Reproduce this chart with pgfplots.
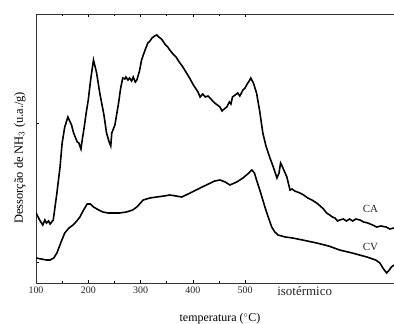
\documentclass[border=0pt]{standalone}
\usepackage{fontspec}
\setmainfont{Liberation Serif}
\usepackage{pgfplots}
\pgfplotsset{compat=1.18}
\begin{document}
\begin{tikzpicture}
\begin{axis}[
  scale only axis,
  width=358bp, height=269bp,
  xmin=100, xmax=785, ymin=0, ymax=269,
  axis x line=box, axis y line=left,
  y axis line style={-},
  xtick={100,200,300,400,500},
  minor xtick={150,250,350,450},
  extra x ticks={614},
  extra x tick labels={isotérmico},
  extra x tick style={major tick length=0pt, tick label style={font=\fontsize{13}{15}\selectfont}},
  ytick={21,160}, yticklabels={},
  tick align=inside,
  major tick length=3bp, minor tick length=2bp,
  tick style={black, line width=0.5pt},
  tick label style={font=\fontsize{10}{12}\selectfont, text=black!85},
  /pgf/number format/assume math mode=true,
  axis line style={line width=0.9pt, black!80},
  xlabel={temperatura ($^{\circ}$C)},
  xlabel style={font=\fontsize{12}{14}\selectfont, at={(rel axis cs:0.514,0)}, anchor=north, yshift=-27bp},
  ylabel={Dessorção de NH$_3$ (u.a./g)},
  ylabel style={font=\fontsize{12.5}{14}\selectfont, at={(rel axis cs:-0.045,0.465)}, anchor=center},
  clip=true,
]
\coordinate (TL) at (rel axis cs:0,1);
\coordinate (BR) at (rel axis cs:1,0);
\addplot[black, line width=1.6pt] coordinates {
(100,70) (104,66) (108,62) (113,58) (117,63) (120,60) (124,62) (127,59) (133,63) (140,90) (146,116) (150,140)
(155,156) (161,166) (168,158) (172,150) (175,146) (179,141) (182,140) (186,134) (189,145) (192,155) (196,170) (200,183)
(205,205) (210,223) (216,210) (222,190) (230,168) (235,150) (240,141) (243,137) (245,150) (251,158) (258,180)
(262,195) (266,205) (270,204) (272,206) (276,203) (279,205) (283,202) (286,206) (290,201) (293,203) (298,212) (302,223) (308,232)
(314,240) (318,242) (322,245) (327,247) (331,248) (335,246) (340,244) (344,241) (348,238) (352,236) (356,233) (362,229) (368,226) (374,221) (381,216)
(388,210) (395,204) (400,199) (405,195) (410,191) (414,186) (419,189) (424,186) (429,187) (433,185) (438,182) (442,180) (447,178) (452,176)
(456,172) (460,174) (465,176) (470,181) (473,179) (476,186) (481,188) (486,190) (490,187) (496,193) (500,195) (504,199) (508,202) (511,205)
(516,200) (522,190) (528,172) (534,150) (540,137) (547,126) (554,116) (561,105) (565,110) (568,120) (570,118) (575,112)
(580,106) (586,93) (590,94) (595,92) (600,91) (605,90) (612,88) (620,85) (628,83) (637,80) (644,77) (650,74) (656,70) (662,68) (667,66) (672,65)
(677,62) (681,63) (688,64) (694,62) (700,64) (706,62) (712,64) (720,63) (727,61) (735,60) (744,58) (752,56) (760,57) (770,56) (777,54) (785,55)
};
\addplot[black, line width=1.6pt] coordinates {
(100,25) (110,24) (120,23) (127,23) (134,25) (140,30) (148,41) (155,50) (163,55) (171,58) (178,62)
(184,66) (191,73) (198,79) (204,79) (210,76) (220,73) (228,71) (238,70) (248,70) (260,70) (273,71)
(285,73) (293,76) (300,80) (305,83) (318,85) (331,86) (345,87) (356,88) (368,87) (379,86) (395,90)
(414,95) (430,99) (442,102) (452,103) (462,101) (471,98) (484,101) (496,105) (505,109) (513,113)
(518,110) (522,103) (530,90) (538,76) (545,65) (551,56) (557,51) (563,48) (577,46) (591,45) (610,43)
(637,40) (660,37) (681,33) (705,30) (733,26) (750,23) (758,20) (765,14) (771,10) (776,13) (780,16) (785,18)
};
\node[font=\fontsize{11}{13}\selectfont, text=black!85] at (axis cs:740,74) {CA};
\node[font=\fontsize{11}{13}\selectfont, text=black!85] at (axis cs:740,36) {CV};
\end{axis}
\pgfresetboundingbox
\path[use as bounding box] ([shift={(-36bp,14bp)}]TL) rectangle ([shift={(0bp,-41bp)}]BR);
\end{tikzpicture}
\end{document}
